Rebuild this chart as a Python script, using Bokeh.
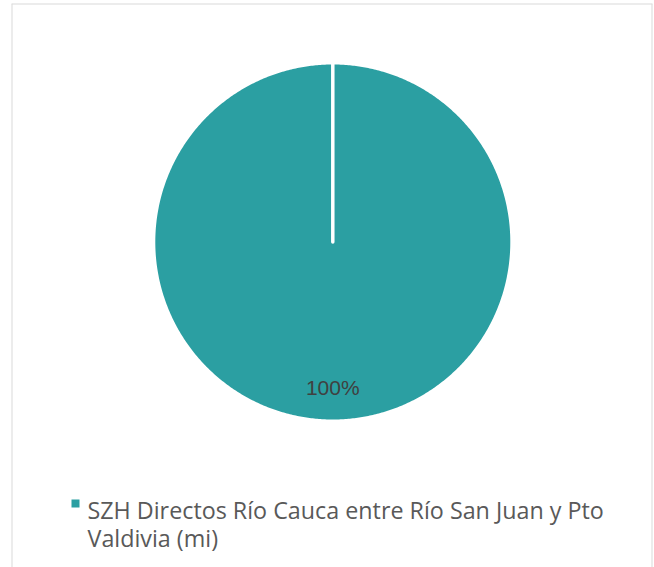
import math
from bokeh.plotting import figure
from bokeh.models import Range1d, ColumnDataSource, Span
from bokeh.core.properties import value
from bokeh.embed import file_html
from bokeh.resources import INLINE

# ---- data ----
categories = ["SZH Directos Río Cauca entre Río San Juan y Pto Valdivia (mi)"]
values = [100.0]
pct_labels = ["100%"]
legend_lines = ["SZH Directos Río Cauca entre Río San Juan y Pto", "Valdivia (mi)"]
colors = ["#2b9fa2"]

# ---- layout constants (pixels) ----
W, H = 654, 567
CX, CY = 332.3, 241.5          # pie centre in page pixels
R = 177.5
FRAME_L, FRAME_R, FRAME_T, FRAME_B = 11, 652, 3, 567

x_rng = Range1d(FRAME_L - CX, FRAME_R - CX)
y_rng = Range1d(CY - FRAME_B, CY - FRAME_T)
p = figure(width=W, height=H, output_backend="svg", toolbar_location=None,
           x_range=x_rng, y_range=y_rng,
           x_axis_location=None, y_axis_location=None,
           min_border_left=FRAME_L, min_border_right=W - FRAME_R,
           min_border_top=FRAME_T, min_border_bottom=H - FRAME_B,
           background_fill_color="white", border_fill_color="white")
p.grid.visible = False
p.outline_line_color = None

# chart-area border (left, right, top; bottom lies below the window)
for loc, dim in [(x_rng.start, "height"), (x_rng.end, "height"), (y_rng.end, "width")]:
    p.add_layout(Span(location=loc, dimension=dim, line_color="#d9d9d9", line_width=2))

total = sum(values)
starts, ends, mids = [], [], []
a = math.pi / 2
for v in values:
    span = 2 * math.pi * v / total
    starts.append(a)
    ends.append(a - span)
    mids.append(a - span / 2)
    a -= span

# slices as polygons (centre + arc)
xs, ys = [], []
for s, e in zip(starts, ends):
    n = max(2, int(abs(s - e) / (2 * math.pi) * 720))
    angs = [s + (e - s) * k / n for k in range(n + 1)]
    xs.append([0.0] + [R * math.cos(t) for t in angs])
    ys.append([0.0] + [R * math.sin(t) for t in angs])
src = ColumnDataSource(dict(xs=xs, ys=ys, color=colors, cat=categories))
p.patches(xs="xs", ys="ys", fill_color="color", line_color=None, source=src)

# white slice borders
seg = ColumnDataSource(dict(x0=[0.0] * len(starts), y0=[0.0] * len(starts),
                            x1=[(R + 2) * math.cos(s) for s in starts],
                            y1=[(R + 2) * math.sin(s) for s in starts]))
p.segment(x0="x0", y0="y0", x1="x1", y1="y1", line_color="white", line_width=3.5,
          line_cap="round", source=seg)

# percentage labels
LR = 0.82 * R
lab = ColumnDataSource(dict(x=[LR * math.cos(m) for m in mids],
                            y=[LR * math.sin(m) for m in mids], t=pct_labels))
p.text(x="x", y="y", text="t", source=lab, text_align="center", text_baseline="middle",
       text_font=value("Liberation Sans"), text_font_size="21px", text_color="#404040")

# legend (manual, wrapped)
LEG_X, LEG_Y = 75, 503
p.scatter(x=[LEG_X - CX], y=[CY - LEG_Y], marker="square", size=8,
          fill_color=colors[0], line_color=None)
TX, TY, LH = 87, 509.5, 27.5
leg = ColumnDataSource(dict(x=[TX - CX] * len(legend_lines),
                            y=[CY - (TY + i * LH) for i in range(len(legend_lines))],
                            t=legend_lines))
p.text(x="x", y="y", text="t", source=leg, text_align="left", text_baseline="alphabetic",
       text_font=value("Open Sans"), text_font_size="23.3px", text_color="#595959")

open("out.html", "w").write(file_html(p, INLINE))
